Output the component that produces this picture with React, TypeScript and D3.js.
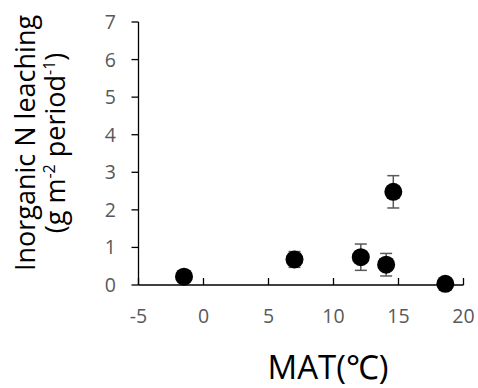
import React from "react";
import * as d3 from "d3";

const matValues = [-1.5, 7.0, 12.1, 14.05, 14.6, 18.6];
const leachValues = [0.22, 0.68, 0.74, 0.54, 2.48, 0.03];
const errorValues = [0, 0.21, 0.35, 0.3, 0.43, 0];
const xTicks = [-5, 0, 5, 10, 15, 20];
const yTicks = [0, 1, 2, 3, 4, 5, 6, 7];

const W = 478;
const H = 388;
const FONT = "'Open Sans', 'Noto Sans', sans-serif";

export default function App() {
  const x = d3.scaleLinear().domain([-5, 20]).range([138.5, 463.5]);
  const y = d3.scaleLinear().domain([0, 7]).range([285, 22]);
  const tickColor = "#595959";
  return (
    <svg width={W} height={H} style={{ position: "absolute", left: 0, top: 0 }} fontFamily={FONT}>
      <rect width={W} height={H} fill="#fff" />
      {/* y axis */}
      <line x1={x(-5)} x2={x(-5)} y1={y(0)} y2={y(7)} stroke="#000" strokeWidth={1.3} />
      {yTicks.map((t) => (
        <g key={"y" + t}>
          <line x1={x(-5) - 7} x2={x(-5)} y1={y(t)} y2={y(t)} stroke="#000" strokeWidth={1.3} />
          <text x={116} y={y(t)} dy="0.36em" textAnchor="end" fontSize={19.5} fill={tickColor}>
            {t}
          </text>
        </g>
      ))}
      {/* x axis */}
      <line x1={x(-5)} x2={x(20)} y1={y(0)} y2={y(0)} stroke="#000" strokeWidth={1.3} />
      {xTicks.map((t) => (
        <g key={"x" + t}>
          <line x1={x(t)} x2={x(t)} y1={y(0)} y2={y(0) - 7} stroke="#000" strokeWidth={1.3} />
          <text x={x(t)} y={y(0) + 38} textAnchor="middle" fontSize={19.5} fill={tickColor}>
            {t}
          </text>
        </g>
      ))}
      {/* error bars */}
      {matValues.map((m, i) =>
        errorValues[i] > 0 ? (
          <g key={"e" + i} stroke="#595959" strokeWidth={1.5}>
            <line x1={x(m)} x2={x(m)} y1={y(leachValues[i] - errorValues[i])} y2={y(leachValues[i] + errorValues[i])} />
            <line x1={x(m) - 6} x2={x(m) + 6} y1={y(leachValues[i] - errorValues[i])} y2={y(leachValues[i] - errorValues[i])} />
            <line x1={x(m) - 6} x2={x(m) + 6} y1={y(leachValues[i] + errorValues[i])} y2={y(leachValues[i] + errorValues[i])} />
          </g>
        ) : null
      )}
      {/* points */}
      {matValues.map((m, i) => (
        <circle key={"p" + i} cx={x(m)} cy={y(leachValues[i])} r={9} fill="#000" />
      ))}
      {/* axis titles */}
      <text x={328} y={379} textAnchor="middle" fontSize={33} fill="#000">
        MAT(℃)
      </text>
      <g transform="translate(0,143) rotate(-90)">
        <text x={0} y={35} textAnchor="middle" fontSize={27} fill="#000">
          Inorganic N leaching
        </text>
        <text x={0} y={65} textAnchor="middle" fontSize={27} fill="#000">
          (g m<tspan dy="-10" fontSize={16}>-2</tspan>
          <tspan dy="10"> period</tspan>
          <tspan dy="-10" fontSize={16}>-1</tspan>
          <tspan dy="10">)</tspan>
        </text>
      </g>
    </svg>
  );
}
